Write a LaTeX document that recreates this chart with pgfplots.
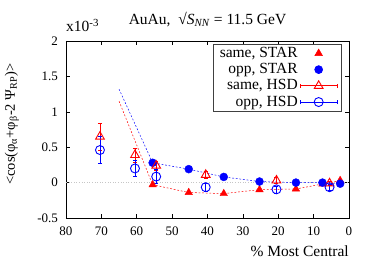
\documentclass[border=0pt]{standalone}
\usepackage{fontspec}
\setmainfont{Liberation Serif}
\usepackage{pgfplots}
\pgfplotsset{compat=1.18}
\pgfplotsset{
  starleg/.style={legend image code/.code={\draw[mark repeat=2,mark phase=2,##1] plot coordinates {(0cm,0cm) (0.65cm,0cm) (1.3cm,0cm)};}},
  hsdleg/.style={legend image code/.code={%
    \draw[##1,mark=none] (0cm,0cm) -- (1.3cm,0cm);
    \draw[##1,mark=none] (0cm,-2pt) -- (0cm,2pt);
    \draw[##1,mark=none] (1.3cm,-2pt) -- (1.3cm,2pt);
    \draw[mark repeat=2,mark phase=2,##1,draw=none] plot coordinates {(0cm,0cm) (0.65cm,0cm) (1.3cm,0cm)};}},
}
\newcommand\bigtxt{\fontsize{15.5}{18}\selectfont}
\begin{document}
\fontsize{13}{15}\selectfont
\begin{tikzpicture}
\begin{axis}[
  at={(0,0)}, anchor=south west,
  scale only axis, width=283pt, height=177pt,
  xmin=0, xmax=80, ymin=-0.5, ymax=2, x dir=reverse,
  xtick={0,10,...,80}, ytick={-0.5,0,0.5,1,1.5,2},
  /pgf/number format/assume math mode=true,
  xticklabel style={yshift=-4pt},
  yticklabel style={xshift=-3.5pt},
  major tick length=4pt,
  axis line style={line width=0.8pt},
  every tick/.style={black, line width=0.6pt},
  legend style={at={(0.975,0.983)}, anchor=north east, draw=black!75, line width=0.6pt,
    font=\bigtxt, row sep=0pt, inner xsep=4pt, inner ysep=1pt},
  legend cell align=right,
  legend plot pos=right,
  clip=false,
]
% zero line
\addplot[gray!45, dotted, line width=0.6pt, forget plot] coordinates {(80,0) (0,0)};
% dashed connecting lines
\addplot[red, dashed, dash pattern=on 1.8pt off 1.8pt, line width=0.5pt, forget plot] coordinates {
(65,1.15) (55.5,-0.03) (45.3,-0.14) (35.4,-0.155) (25.3,-0.10) (15,-0.09) (7.5,-0.02) (2.5,0.03)};
\addplot[blue, dashed, dash pattern=on 1.8pt off 1.8pt, line width=0.5pt, forget plot] coordinates {
(65,1.32) (55.5,0.28) (45.3,0.19) (35.4,0.08) (25.3,0.015) (15,0.0) (7.5,0.0) (2.5,-0.015)};
% STAR same
\addplot[red, only marks, mark=triangle*, mark size=4.3pt, starleg] coordinates {
(55.5,-0.03) (45.3,-0.14) (35.4,-0.155) (25.3,-0.10) (15,-0.09) (7.5,-0.02) (2.5,0.03)};
\addlegendentry{same, STAR}
% STAR opp
\addplot[blue, only marks, mark=*, mark size=4pt, starleg] coordinates {
(55.5,0.28) (45.3,0.19) (35.4,0.08) (25.3,0.015) (15,0.0) (7.5,0.0) (2.5,-0.015)};
\addlegendentry{opp, STAR}
% HSD same
\addplot[red, line width=0.9pt, only marks, mark=triangle, mark size=5pt, hsdleg,
  error bars/.cd, y dir=both, y explicit, error bar style={line width=0.9pt},
  error mark options={rotate=90, mark size=2pt}]
  table[x=x, y=y, y error=e] {
x y e
70.4 0.65 0.19
60.5 0.39 0.10
54.5 0.24 0.06
40.5 0.11 0.05
20.5 0.03 0.04
5.5 -0.01 0.03
};
\addlegendentry{same, HSD}
% HSD opp
\addplot[blue, line width=0.9pt, only marks, mark=o, mark size=4.5pt, hsdleg,
  error bars/.cd, y dir=both, y explicit, error bar style={line width=0.9pt},
  error mark options={rotate=90, mark size=2pt}]
  table[x=x, y=y, y error=e] {
x y e
70.4 0.46 0.19
60.5 0.20 0.11
54.5 0.085 0.10
40.5 -0.065 0.06
20.5 -0.095 0.05
5.5 -0.065 0.04
};
\addlegendentry{opp, HSD}
% labels
\node[anchor=base, inner sep=0pt, font=\bigtxt] at (axis description cs:0.5,1.096) {AuAu,\ \ √\textit{S}\textsubscript{\textit{NN}} = 11.5 GeV};
\node[anchor=base west, inner sep=0pt, font=\bigtxt] at (axis description cs:0.0,1.051) {x10\textsuperscript{-3}};
\node[anchor=base east, inner sep=0pt, font=\bigtxt] at (axis description cs:1.0,-0.22) {\% Most Central};
\node[rotate=90, anchor=center, inner sep=0pt, font=\fontsize{14.5}{17}\selectfont] at (axis description cs:-0.191,0.53) {<cos(φ\textsubscript{α}+φ\textsubscript{β}-2 Ψ\textsubscript{RP})>};
\end{axis}
\pgfresetboundingbox
\path[use as bounding box] (-66pt,-44pt) rectangle (308pt,218pt);
\end{tikzpicture}
\end{document}
